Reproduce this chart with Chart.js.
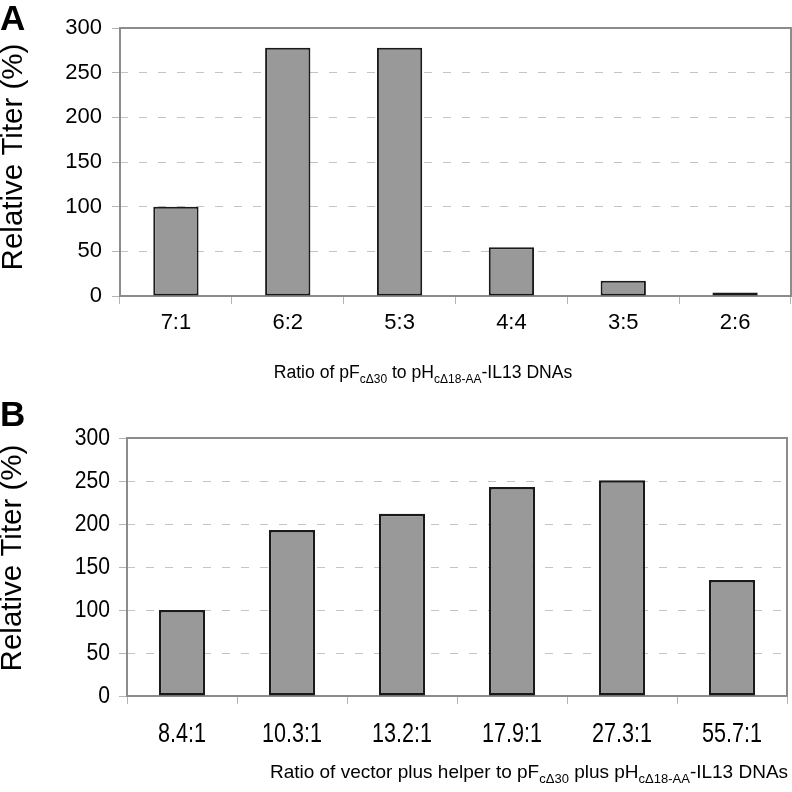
<!DOCTYPE html>
<html><head><meta charset="utf-8">
<script src="https://cdn.jsdelivr.net/npm/chart.js@4"></script>
<style>
html,body{margin:0;padding:0;background:#fff;overflow:hidden;}
#cA{position:absolute;left:0;top:0;}
#cB{position:absolute;left:0;top:395px;}
</style></head><body>
<canvas id="cA" width="792" height="395"></canvas>
<canvas id="cB" width="792" height="397"></canvas>
<script>
const categoriesA = ['7:1','6:2','5:3','4:4','3:5','2:6'];
const valuesA = [100, 278, 278, 54.5, 17, 4];
const categoriesB = ['8.4:1','10.3:1','13.2:1','17.9:1','27.3:1','55.7:1'];
const valuesB = [100, 193, 212, 243, 251, 135];
const yTicks = [0, 50, 100, 150, 200, 250, 300];
const yTitle = 'Relative Titer (%)';
const xTitleA = [['Ratio of pF',0],['c\u039430',1],[' to pH',0],['c\u039418-AA',1],['-IL13 DNAs',0]];
const xTitleB = [['Ratio of vector plus helper to pF',0],['c\u039430',1],[' plus pH',0],['c\u039418-AA',1],['-IL13 DNAs',0]];

const SANS = '"Liberation Sans", Arial, sans-serif';

function decorPlugin(o) {
  return {
    id: 'decor' + o.letter,
    beforeDatasetsDraw(chart) {
      const a = chart.chartArea, ctx = chart.ctx;
      ctx.save();
      ctx.strokeStyle = '#8c8c8c';
      ctx.lineWidth = 2;
      ctx.strokeRect(a.left, a.top, a.right - a.left, a.bottom - a.top);
      ctx.restore();
    },
    afterDraw(chart) {
      const ctx = chart.ctx;
      ctx.save();
      ctx.fillStyle = '#000';
      ctx.font = 'bold 35px ' + SANS;
      ctx.textAlign = 'left';
      ctx.textBaseline = 'alphabetic';
      ctx.fillText(o.letter, 0, o.letterY);
      // condensed tick labels drawn at the library's tick positions
      if (o.narrow) {
        const xs = chart.scales.x, ys = chart.scales.y;
        ctx.font = o.xSize + 'px ' + SANS;
        ctx.textAlign = 'center';
        ctx.textBaseline = 'alphabetic';
        xs.ticks.forEach((t, i) => {
          const px = xs.getPixelForTick(i);
          ctx.save();
          ctx.translate(px, o.xLabelBase);
          ctx.scale(o.xScaleX, 1);
          ctx.fillText(xs.getLabelForValue(t.value), 0, 0);
          ctx.restore();
        });
        ctx.font = o.ySize + 'px ' + SANS;
        ctx.textAlign = 'right';
        ctx.textBaseline = 'middle';
        ys.ticks.forEach((t, i) => {
          const py = ys.getPixelForValue(t.value);
          ctx.save();
          ctx.translate(ys.right - 17, py);
          ctx.scale(o.yScaleX, 1);
          ctx.fillText(String(t.value), 0, 0);
          ctx.restore();
        });
      }
      // y title
      ctx.save();
      ctx.translate(o.yTitleX, o.yTitleY);
      ctx.rotate(-Math.PI / 2);
      ctx.font = '29.5px ' + SANS;
      ctx.textAlign = 'center';
      ctx.textBaseline = 'middle';
      ctx.fillText(yTitle, 0, 0);
      ctx.restore();
      // x title with subscripts
      const mainF = o.tSize + 'px ' + SANS, subF = Math.round(o.tSize * 0.66) + 'px ' + SANS;
      let total = 0;
      o.xTitle.forEach(([t, s]) => { ctx.font = s ? subF : mainF; total += ctx.measureText(t).width; });
      let x = o.xTitleCX - total / 2;
      ctx.textAlign = 'left';
      ctx.textBaseline = 'alphabetic';
      o.xTitle.forEach(([t, s]) => {
        ctx.font = s ? subF : mainF;
        ctx.fillText(t, x, o.xTitleY + (s ? 5 : 0));
        x += ctx.measureText(t).width;
      });
      ctx.restore();
    }
  };
}

function makeChart(id, cats, vals, o) {
  const tickColor = o.narrow ? 'rgba(0,0,0,0)' : '#000';
  return new Chart(document.getElementById(id), {
    type: 'bar',
    data: {
      labels: cats,
      datasets: [{
        data: vals,
        backgroundColor: '#999999',
        borderColor: '#1a1a1a',
        borderWidth: o.bw,
        borderSkipped: false,
        categoryPercentage: 1,
        barPercentage: o.barPct
      }]
    },
    options: {
      responsive: false,
      animation: false,
      events: [],
      layout: { padding: { left: 0, top: o.padTop, right: o.padRight, bottom: 0 } },
      plugins: { legend: { display: false }, tooltip: { enabled: false } },
      scales: {
        x: {
          afterFit: s => { s.height = o.xH; },
          grid: { display: true, drawOnChartArea: false, drawTicks: true, tickLength: 8, tickColor: '#b4b4b4', offset: true },
          border: { display: false },
          ticks: { color: tickColor, font: { family: SANS, size: o.xSize }, padding: o.xPad, maxRotation: 0, autoSkip: false }
        },
        y: {
          min: 0, max: 300,
          afterFit: s => { s.width = o.yW; },
          afterBuildTicks: s => { s.ticks = yTicks.map(v => ({ value: v })); },
          grid: {
            color: c => (c.tick && (c.tick.value === 0 || c.tick.value === 300)) ? 'rgba(0,0,0,0)' : '#c4c4c4',
            tickBorderDash: [],
            tickColor: '#b4b4b4',
            tickLength: 8,
            lineWidth: 1
          },
          border: { display: false, dash: [8, 11] },
          ticks: { color: tickColor, font: { family: SANS, size: o.ySize }, padding: 10 }
        }
      }
    },
    plugins: [decorPlugin(o)]
  });
}

makeChart('cA', categoriesA, valuesA, {
  letter: 'A', letterY: 30, yTitleX: 14, yTitleY: 157,
  xTitle: xTitleA, xTitleCX: 423, xTitleY: 378, tSize: 17.6,
  padTop: 28, padRight: 1, xH: 99, yW: 120,
  bw: 2, barPct: 0.405,
  xSize: 22, xPad: 6, ySize: 22, narrow: false
});
makeChart('cB', categoriesB, valuesB, {
  letter: 'B', letterY: 31, yTitleX: 13, yTitleY: 163,
  xTitle: xTitleB, xTitleCX: 529, xTitleY: 383, tSize: 19,
  padTop: 43, padRight: 5, xH: 96, yW: 127,
  bw: 2.5, barPct: 0.42,
  xSize: 27, xPad: 12, ySize: 24, narrow: true,
  xScaleX: 0.8, yScaleX: 0.88, xLabelBase: 347
});
</script>
</body></html>
